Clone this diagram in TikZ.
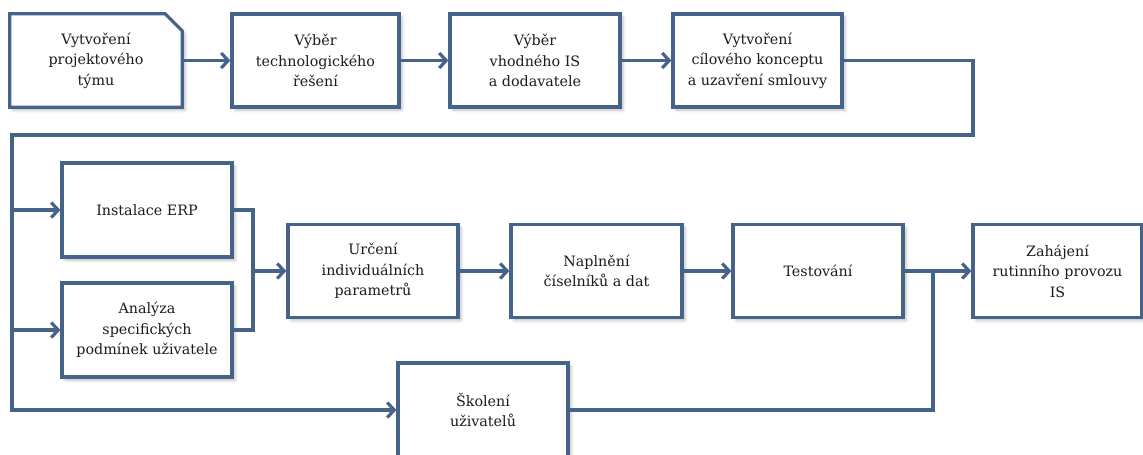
\documentclass[tikz,border=0pt]{standalone}
\usepackage{fontspec}
\setmainfont{DejaVu Serif}
\usetikzlibrary{arrows.meta,shadows.blur}
\definecolor{edge}{HTML}{46638A}
\definecolor{ink}{HTML}{1C1C1C}

\tikzset{
  boxshadow/.style={blur shadow={shadow xshift=3pt, shadow yshift=-3pt,
      shadow blur radius=3pt, shadow opacity=25}},
  boxtext/.style={text=ink, align=center, font=\fontsize{14.3}{20.5}\selectfont},
  stepbox/.style={draw=edge, line width=3.2pt, fill=white, boxshadow,
      minimum width=#1, minimum height=93pt, inner sep=2pt, boxtext},
  stepbox/.default=170pt,
  flow/.style={draw=edge, line width=3.2pt},
  arr/.style={flow, -{Straight Barb[length=7pt,width=15pt]}},
}

\begin{document}
\begin{tikzpicture}[x=1pt,y=-1pt]
\useasboundingbox (0,0) rectangle (1143,455);

% first row; the first box has a snipped top right corner
\coordinate (b1) at (96,60.5);
\node[minimum width=172pt, minimum height=93pt, inner sep=0pt] (b1f) at (b1) {};
\draw[draw=edge, line width=3.2pt, fill=white, boxshadow]
  (b1f.north west) -- ([xshift=-17pt]b1f.north east) -- ([yshift=-17pt]b1f.north east)
  -- (b1f.south east) -- (b1f.south west) -- cycle;
\node[boxtext] (b1t) at (b1) {Vytvoření\\projektového\\týmu};
\node[stepbox=167pt] (b2) at (315.5,60.5) {Výběr\\technologického\\řešení};
\node[stepbox] (b3) at (535,60.5) {Výběr\\vhodného IS\\a dodavatele};
\node[stepbox=169pt] (b4) at (757.5,60.5) {Vytvoření\\cílového konceptu\\a uzavření smlouvy};

% second part
\node[stepbox, minimum height=94pt] (erp) at (147,210) {Instalace ERP};
\node[stepbox, minimum height=94pt] (ana) at (147,330) {Analýza\\specifických\\podmínek uživatele};
\node[stepbox] (urc) at (373,271) {Určení\\individuálních\\parametrů};
\node[stepbox=171pt] (nap) at (596.5,271) {Naplnění\\číselníků a dat};
\node[stepbox] (test) at (818,271) {Testování};
\node[stepbox=169pt] (zah) at (1057.5,271) {Zahájení\\rutinního provozu\\IS};
\node[stepbox, minimum height=94pt] (sko) at (483,410) {Školení\\uživatelů};

% connectors of the first row
\draw[arr] (b1f.east) -- (b2.west);
\draw[arr] (b2.east) -- (b3.west);
\draw[arr] (b3.east) -- (b4.west);

% return line down to the second part
\coordinate (rt) at (973,135);
\coordinate (lft) at (12,135);
\draw[arr] (b4.east) -| (rt) -- (lft) |- (sko.west);
\draw[arr] (lft |- erp.west) -- (erp.west);
\draw[arr] (lft |- ana.west) -- (ana.west);

% merge of installation and analysis
\coordinate (mj) at (253,271);
\draw[flow] (erp.east) -| (mj) |- (ana.east);
\draw[arr] (mj) -- (urc.west);

\draw[arr] (urc.east) -- (nap.west);
\draw[arr] (nap.east) -- (test.west);
\draw[arr] (test.east) -- (zah.west);

% training joins before routine operation
\coordinate (tj) at (933,271);
\draw[flow] (sko.east) -| (tj);
\end{tikzpicture}
\end{document}
